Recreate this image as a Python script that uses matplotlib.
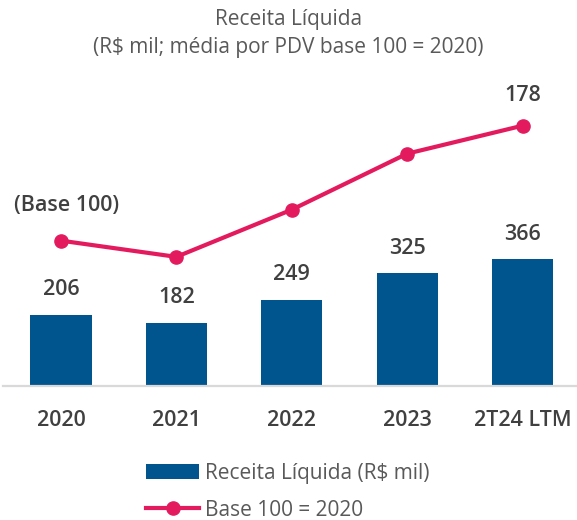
import matplotlib
matplotlib.use("Agg")
import matplotlib.pyplot as plt
from matplotlib.patches import Patch
from matplotlib.lines import Line2D

plt.rcParams['font.family'] = ['Open Sans', 'DejaVu Sans']

categorias = ['2020', '2021', '2022', '2023', '2T24 LTM']
receita = [206, 182, 249, 325, 366]          # R$ mil
base100 = [100, 89, 121, 159, 178]           # média por PDV, base 100 = 2020

AZUL = '#00558F'
ROSA = '#E31B5E'
TEXTO = '#404040'
CINZA = '#595959'

fig = plt.figure(figsize=(5.77, 5.2), dpi=100)
ax = fig.add_axes([0.0056, 0.2577, 1.0, 0.5885])
x = list(range(len(categorias)))

ax.bar(x, receita, width=0.53, color=AZUL, zorder=2)
ax.set_xlim(-0.5, 4.5)
ax.set_ylim(0, 882)
for xi, v in zip(x, receita):
    ax.annotate(str(v), (xi, v), xytext=(0, 18), textcoords='offset points',
                ha='center', va='center', fontsize=15.5, fontweight='semibold', color=TEXTO)

ax.set_xticks(x)
ax.set_xticklabels(categorias, fontsize=15.5, fontweight='semibold', color=TEXTO)
ax.tick_params(axis='x', length=0, pad=17)
ax.set_yticks([])
for s in ['top', 'right', 'left']:
    ax.spines[s].set_visible(False)
ax.spines['bottom'].set_color('#D9D9D9')
ax.spines['bottom'].set_linewidth(1.6)

ax2 = ax.twinx()
ax2.plot(x, base100, color=ROSA, lw=3, marker='o', ms=9.5, zorder=3)
ax2.set_ylim(1.4, 209)
ax2.axis('off')
ax2.annotate('(Base 100)', (x[0], base100[0]), xytext=(4, 25), textcoords='offset points',
             ha='center', va='center', fontsize=15.5, fontweight='semibold', color=TEXTO)
ax2.annotate(str(base100[-1]), (x[-1], base100[-1]), xytext=(0, 22), textcoords='offset points',
             ha='center', va='center', fontsize=15.5, fontweight='semibold', color=TEXTO)

fig.text(0.5, 1 - 20 / 520, 'Receita Líquida', ha='center', va='center', fontsize=15, color=CINZA)
fig.text(0.5, 1 - 48 / 520, '(R$ mil; média por PDV base 100 = 2020)', ha='center', va='center',
         fontsize=15, color=CINZA)

handles = [Patch(facecolor=AZUL),
           Line2D([], [], color=ROSA, lw=3, marker='o', ms=9.5)]
fig.legend(handles, ['Receita Líquida (R$ mil)', 'Base 100 = 2020'],
           loc='center left', bbox_to_anchor=(146 / 577, 1 - 492 / 520), frameon=False,
           fontsize=15, labelcolor=CINZA, handlelength=2.55, handleheight=0.72,
           handletextpad=0.3, labelspacing=0.75, borderpad=0, borderaxespad=0)

fig.savefig('out.png', dpi=100)
